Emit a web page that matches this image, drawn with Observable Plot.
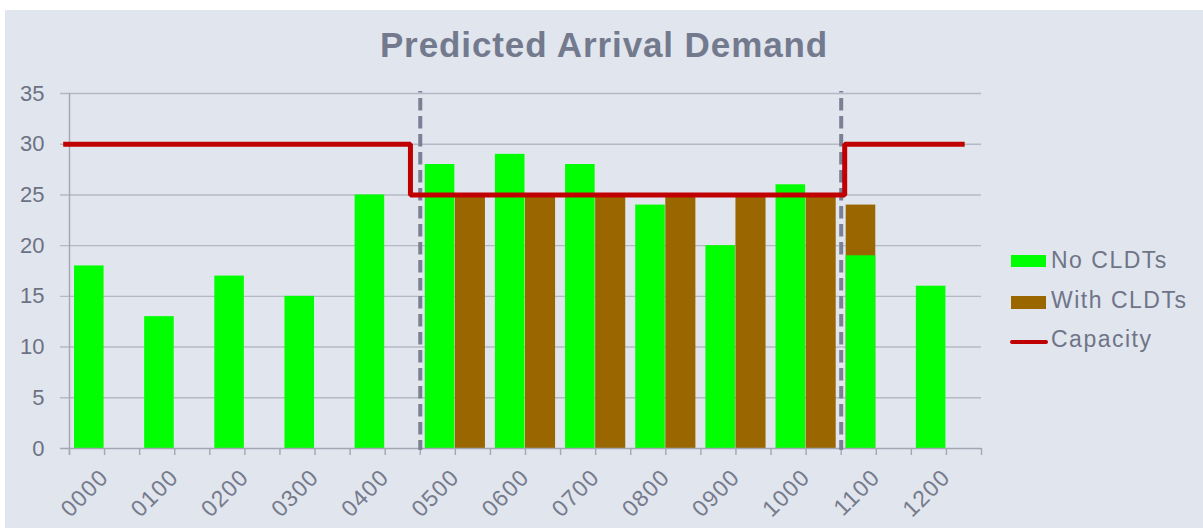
<!DOCTYPE html>
<html>
<head>
<meta charset="utf-8">
<script src="https://cdn.jsdelivr.net/npm/d3@7"></script>
<script src="https://cdn.jsdelivr.net/npm/@observablehq/plot@0.6"></script>
<style>
  html, body { margin: 0; padding: 0; background: #ffffff; }
  #panel { position: absolute; left: 5px; top: 10px; width: 1198px; height: 518px;
           background: #e1e5ee; font-family: "Liberation Sans", Arial, sans-serif; overflow: hidden; }
  #chart { position: absolute; left: 0; top: 0; }
  #title { position: absolute; left: 0; width: 1198px; top: 17px; text-align: center;
           font-weight: bold; font-size: 35px; line-height: 35px; letter-spacing: 0.9px; color: #737a8d; white-space: nowrap; }
  .leg-text { position: absolute; font-size: 23px; line-height: 23px; letter-spacing: 1.5px; color: #6f7587; white-space: nowrap; }
  .leg-sw { position: absolute; }
  #chart svg g[aria-label="text"] text { letter-spacing: 1.2px; }
</style>
</head>
<body>
<div id="panel">
  <div id="chart"></div>
  <div id="title">Predicted Arrival Demand</div>
  <div id="legend"></div>
</div>
<script>
// ---- data ----
const hours = ["0000","0100","0200","0300","0400","0500","0600","0700","0800","0900","1000","1100","1200"];
const noCLDTs   = [18, 13, 17, 15, 25, 28, 29, 28, 24, 20, 26, 19, 16];
const withCLDTs = [null, null, null, null, null, 25, 25, 25, 25, 25, 25, null, null];
// at 1100 the "With CLDTs" total is drawn in the same column as "No CLDTs"
const withCLDTsSameColumn = [null, null, null, null, null, null, null, null, null, null, null, 24, null];
// capacity step line (x in category units)
const capacityX = [-0.09, 4.86, 4.86, 11.05, 11.05, 12.76];
const capacityY = [30, 30, 25, 25, 30, 30];
const dividers = [5, 11];
const yTicks = [0, 5, 10, 15, 20, 25, 30, 35];
const seriesNames = ["No CLDTs", "With CLDTs", "Capacity"];
const seriesColors = ["#00ff00", "#996600", "#c00000"];

// ---- build tables ----
const greenRows = hours.map((h, i) => ({i, v: noCLDTs[i]})).filter(d => d.v != null);
const brownRows = hours.map((h, i) => ({i, v: withCLDTs[i]})).filter(d => d.v != null);
const brownSame = hours.map((h, i) => ({i, v: withCLDTsSameColumn[i]})).filter(d => d.v != null);
const capRows = capacityX.map((x, k) => ({x, y: capacityY[k]}));
const xTickPos = d3.range(0, hours.length * 2 + 1).map(k => k / 2);

const txt = "#6d7283";
const grid = "#b5b9c5";
const axisCol = "#a3a7b4";

const chart = Plot.plot({
  width: 1198, height: 518,
  marginLeft: 64, marginRight: 222, marginTop: 83, marginBottom: 80,
  style: {background: "transparent", fontFamily: "'Liberation Sans', Arial, sans-serif", overflow: "visible"},
  x: {type: "linear", domain: [0, hours.length], axis: null},
  y: {domain: [0, 35], axis: null},
  marks: [
    Plot.ruleY(yTicks.filter(d => d > 0), {stroke: grid, strokeWidth: 1.4, insetLeft: -9}),
    Plot.ruleX([0], {stroke: axisCol, strokeWidth: 1.4, insetBottom: -7}),
    Plot.axisX({ticks: xTickPos, tickSize: 7, tickFormat: () => "", label: null, stroke: axisCol, strokeWidth: 1.4}),
    Plot.rectY(brownSame, {x1: d => d.i, x2: d => d.i + 0.5, y: "v", fill: seriesColors[1], insetLeft: 5, insetRight: 0.5}),
    Plot.rectY(greenRows, {x1: d => d.i, x2: d => d.i + 0.5, y: "v", fill: seriesColors[0], insetLeft: 5, insetRight: 0.5}),
    Plot.rectY(brownRows, {x1: d => d.i + 0.5, x2: d => d.i + 1, y: "v", fill: seriesColors[1], insetLeft: 0, insetRight: 5}),
    Plot.ruleY([0], {stroke: axisCol, strokeWidth: 1.4, insetLeft: -9}),
    Plot.ruleX(dividers, {stroke: "#7a8195", strokeWidth: 4, strokeDasharray: "12.5,5.5", strokeDashoffset: 11, insetTop: -2, insetBottom: -2}),
    Plot.line(capRows, {x: "x", y: "y", stroke: seriesColors[2], strokeWidth: 5, strokeLinejoin: "miter", strokeLinecap: "butt"}),
    Plot.axisY({ticks: yTicks, tickSize: 0, tickPadding: 25, fontSize: 22, fill: txt, label: null, tickFormat: d => String(d)}),
    Plot.text(hours, {x: (d, i) => i + 0.5, y: () => 0, text: d => d, rotate: -45, textAnchor: "end", lineAnchor: "middle",
      dx: 0, dy: 25, fontSize: 23, fill: "#767b8c"})
  ]
});
document.getElementById("chart").appendChild(chart);

// ---- legend ----
const legend = document.getElementById("legend");
const rows = [
  {top: 239, sw: {left: 1006, top: 245, width: 35, height: 12}},
  {top: 279, sw: {left: 1006, top: 286, width: 35, height: 13}},
  {top: 318, sw: {left: 1005, top: 330, width: 38, height: 4, radius: 2}}
];
seriesNames.forEach((name, k) => {
  const r = rows[k];
  const sw = document.createElement("div");
  sw.className = "leg-sw";
  sw.style.left = r.sw.left + "px"; sw.style.top = r.sw.top + "px";
  sw.style.width = r.sw.width + "px"; sw.style.height = r.sw.height + "px";
  sw.style.background = seriesColors[k];
  if (r.sw.radius) sw.style.borderRadius = r.sw.radius + "px";
  legend.appendChild(sw);
  const t = document.createElement("div");
  t.className = "leg-text";
  t.style.left = "1046px"; t.style.top = r.top + "px";
  t.textContent = name;
  legend.appendChild(t);
});
</script>
</body>
</html>
